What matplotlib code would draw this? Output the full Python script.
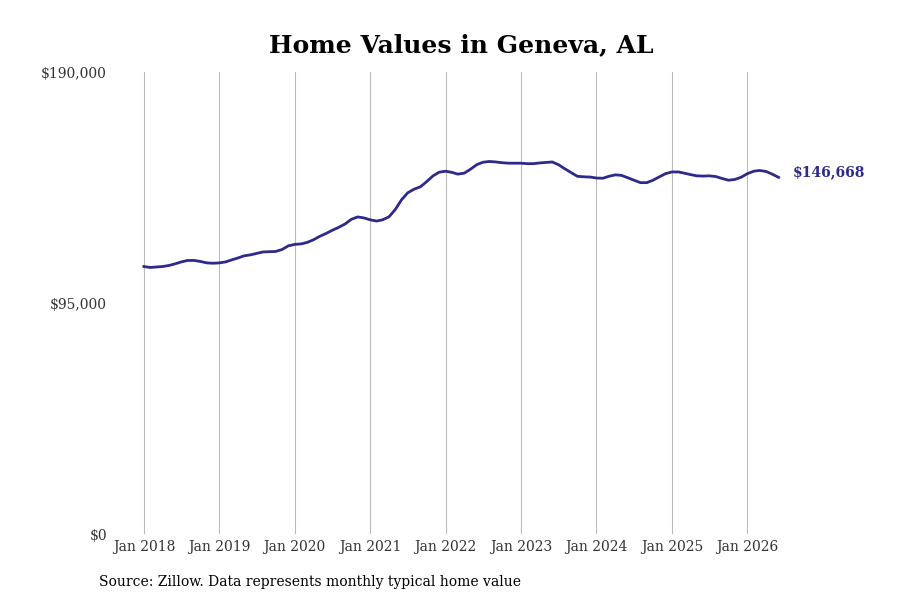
import pandas as pd
import matplotlib.pyplot as plt
import matplotlib.dates as mdates
from matplotlib.ticker import FuncFormatter

# =====================================================
# DATA (monthly typical home value)
# =====================================================
start_month = "2018-01-01"
home_values = [
    # 2018
    110000, 109600, 109800, 110000, 110400, 111100,
    111900, 112500, 112500, 112100, 111500, 111350,
    # 2019
    111500, 111900, 112700, 113500, 114400, 114800,
    115400, 116000, 116100, 116200, 117000, 118500,
    # 2020
    119100, 119300, 119900, 121000, 122400, 123600,
    124900, 126100, 127500, 129400, 130400, 130000,
    # 2021
    129200, 128700, 129200, 130400, 133300, 137400,
    140300, 141800, 142800, 144900, 147300, 148800,
    # 2022
    149200, 148700, 148000, 148400, 150000, 151900,
    152900, 153200, 153000, 152700, 152500, 152500,
    # 2023
    152500, 152300, 152300, 152600, 152800, 153000,
    151900, 150200, 148600, 147100, 146900, 146800,
    # 2024
    146400, 146300, 147100, 147700, 147500, 146500,
    145500, 144500, 144500, 145500, 146900, 148200,
    # 2025
    148900, 148900, 148400, 147800, 147300, 147200,
    147300, 147000, 146200, 145500, 145800, 146700,
    # 2026
    148200, 149200, 149500, 149100, 148000, 146668,
]
y_ticks = [0, 95000, 190000]
tick_years = list(range(2018, 2027))

dates = pd.date_range(start_month, periods=len(home_values), freq="MS")

LINE_COLOR = "#2d2a8a"

plt.rcParams["font.family"] = "DejaVu Serif"

# =====================================================
# PLOT
# =====================================================
fig, ax = plt.subplots(figsize=(9, 6), dpi=100)

ax.plot(dates, home_values, color=LINE_COLOR, linewidth=2)

ax.set_ylim(0, 190000)
ax.set_yticks(y_ticks)
ax.yaxis.set_major_formatter(FuncFormatter(lambda v, p: f"${v:,.0f}"))

ax.set_xlim(pd.Timestamp("2017-08-02"), pd.Timestamp("2026-10-31"))
ax.set_xticks([pd.Timestamp(f"{y}-01-01") for y in tick_years])
ax.xaxis.set_major_formatter(mdates.DateFormatter("Jan %Y"))

ax.grid(axis="x", color="#bbbbbb", linewidth=0.8)
ax.set_axisbelow(True)
for side in ["top", "right", "bottom", "left"]:
    ax.spines[side].set_visible(False)
ax.tick_params(axis="both", length=0, labelsize=10, colors="#333333")
ax.tick_params(axis="x", pad=4)
ax.tick_params(axis="y", pad=4)

# End-of-line value label
ax.annotate(
    f"${home_values[-1]:,.0f}",
    xy=(dates[-1], home_values[-1]),
    xytext=(10, 3.5), textcoords="offset points",
    ha="left", va="center",
    fontsize=10, fontweight="bold", color=LINE_COLOR,
)

ax.set_title("Home Values in Geneva, AL", fontsize=18, fontweight="bold", pad=14)

fig.text(0.11, 0.03, "Source: Zillow. Data represents monthly typical home value",
         fontsize=10, ha="left", va="center")

plt.savefig("out.png")
